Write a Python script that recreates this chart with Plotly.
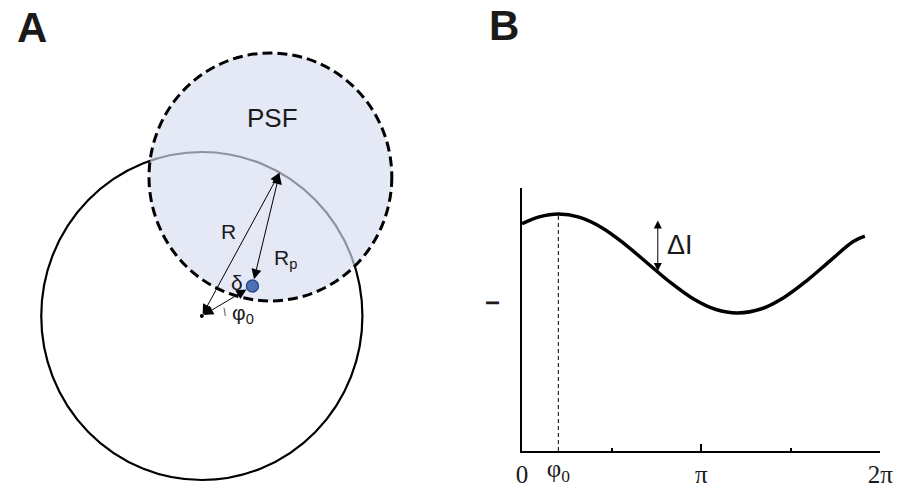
import numpy as np
import plotly.graph_objects as go

# ---------------- Panel A geometry (units of the ring radius R) ----------------
ring_center = (0.0, 0.0)
ring_radius = 1.0
psf_center = (0.427, 0.848)
psf_radius = 0.756
fluor_pos = (0.315, 0.183)
tip_angle_deg = 61.0
phi_arc_radius = 0.146
phi_arc_span_deg = (0.0, 20.0)

# ---------------- Panel B data ----------------
phase_rad = [0.0, 0.3, 0.64, 1.0, 1.4, 1.8, 2.2, 2.6, 3.0, 3.4, 3.78, 4.2, 4.6, 5.0, 5.4, 5.8, 6.01]
intensity = [0.864, 0.890, 0.901, 0.889, 0.849, 0.787, 0.714, 0.641, 0.579, 0.538,
             0.525, 0.541, 0.585, 0.649, 0.723, 0.796, 0.817]
phi0 = 0.636
delta_I_x = 2.38
delta_I_low, delta_I_high = 0.684, 0.882
x_tick_vals = [0.0, np.pi, 2 * np.pi]
x_tick_text = ["0", "π", "2π"]
x_minor_vals = [np.pi / 2, 3 * np.pi / 2]

W, H = 913, 496
SCALE = 164.0           # px per unit R in panel A
ORIGIN_PX = (200.0, 316.0)

SANS = "Liberation Sans, Arial, sans-serif"
SERIF = "Liberation Serif, Times New Roman, serif"

fig = go.Figure()

# ---- panel A traces ----
ang = np.deg2rad(np.linspace(*phi_arc_span_deg, 20))
fig.add_trace(go.Scatter(
    x=ring_center[0] + phi_arc_radius * np.cos(ang),
    y=ring_center[1] + phi_arc_radius * np.sin(ang),
    mode="lines", line=dict(color="#555555", width=1),
    xaxis="x", yaxis="y", hoverinfo="skip", showlegend=False))
fig.add_trace(go.Scatter(
    x=[ring_center[0]], y=[ring_center[1]], mode="markers",
    marker=dict(size=4, color="black"), xaxis="x", yaxis="y",
    hoverinfo="skip", showlegend=False))
fig.add_trace(go.Scatter(
    x=[fluor_pos[0]], y=[fluor_pos[1]], mode="markers",
    marker=dict(size=12, color="#4d70b6", line=dict(color="#2c4c8c", width=1.5)),
    xaxis="x", yaxis="y", hoverinfo="skip", showlegend=False))

# ---- panel B traces ----
fig.add_trace(go.Scatter(
    x=phase_rad, y=intensity, mode="lines",
    line=dict(color="black", width=3.5, shape="spline"),
    xaxis="x2", yaxis="y2", hoverinfo="skip", showlegend=False))
peak = float(np.interp(phi0, phase_rad, intensity))
fig.add_trace(go.Scatter(
    x=[phi0, phi0], y=[0, peak], mode="lines",
    line=dict(color="black", width=1, dash="4px,3px"),
    xaxis="x3", yaxis="y2", hoverinfo="skip", showlegend=False))

# ---- shapes (panel A) ----
shapes = [
    dict(type="circle", xref="x", yref="y",
         x0=ring_center[0] - ring_radius, y0=ring_center[1] - ring_radius,
         x1=ring_center[0] + ring_radius, y1=ring_center[1] + ring_radius,
         line=dict(color="black", width=2.2), layer="below"),
    dict(type="circle", xref="x", yref="y",
         x0=psf_center[0] - psf_radius, y0=psf_center[1] - psf_radius,
         x1=psf_center[0] + psf_radius, y1=psf_center[1] + psf_radius,
         fillcolor="rgba(214,221,240,0.66)",
         line=dict(color="black", width=3, dash="10px,5px"), layer="below"),
]

tip = (ring_center[0] + ring_radius * np.cos(np.deg2rad(tip_angle_deg)),
       ring_center[1] + ring_radius * np.sin(np.deg2rad(tip_angle_deg)))

def arrow(head, tail, standoff=0, startstandoff=0):
    return dict(x=head[0], y=head[1], ax=tail[0], ay=tail[1],
                xref="x", yref="y", axref="x", ayref="y", text="",
                showarrow=True, arrowside="end+start",
                arrowhead=2, startarrowhead=2, arrowsize=2, startarrowsize=2,
                arrowwidth=1, arrowcolor="black",
                standoff=standoff, startstandoff=startstandoff)

def label(x, y, text, size=21, xref="x", yref="y", font=SANS, angle=0, bold=False):
    return dict(x=x, y=y, xref=xref, yref=yref, text=text, showarrow=False,
                xanchor="center", yanchor="middle", textangle=angle,
                font=dict(family=font, size=size, color="#1a1a1a",
                          weight="bold" if bold else "normal"))

annotations = [
    arrow(tip, ring_center),
    arrow(fluor_pos, tip, standoff=7),
    arrow(fluor_pos, ring_center, standoff=7),
    label(0.439, 1.207, "PSF", size=26),
    label(0.163, 0.514, "R"),
    label(0.522, 0.345, "R<sub>p</sub>"),
    label(0.2195, 0.204, "δ"),
    label(0.255, 0.012, "φ<sub>0</sub>"),
    label(27 / W, 1 - 27 / H, "A", size=42, xref="paper", yref="paper", bold=True),
    label(508.5 / W, 1 - 25 / H, "B", size=42, xref="paper", yref="paper", bold=True),
    # panel B
    dict(x=delta_I_x, y=delta_I_low, ax=delta_I_x, ay=delta_I_high,
         xref="x2", yref="y2", axref="x2", ayref="y2", text="", showarrow=True,
         arrowside="end+start", arrowhead=2, startarrowhead=2,
         arrowsize=1.6, startarrowsize=1.6, arrowwidth=1, arrowcolor="black"),
    label(2.764, 0.783, "ΔI", size=27, xref="x2", yref="y2"),
    label(497 / W, 0.563, "I", size=19, xref="paper", yref="y2", angle=-90, bold=True),
]

# axis ranges so that panel A has equal px scale
ax_dom = [0.0, 0.48]
x_min = -ORIGIN_PX[0] / SCALE
x_max = x_min + (ax_dom[1] - ax_dom[0]) * W / SCALE
y_min = -(H - ORIGIN_PX[1]) / SCALE
y_max = ORIGIN_PX[1] / SCALE

b_dom_x = [527 / W, 893 / W]
b_dom_y = [(H - 451) / H, (H - 188) / H]

fig.update_layout(
    width=W, height=H, margin=dict(l=0, r=0, t=0, b=0),
    paper_bgcolor="white", plot_bgcolor="white",
    shapes=shapes, annotations=annotations, showlegend=False,
    xaxis=dict(domain=ax_dom, range=[x_min, x_max], visible=False, fixedrange=True),
    yaxis=dict(domain=[0, 1], range=[y_min, y_max], visible=False, fixedrange=True),
    xaxis2=dict(domain=b_dom_x, range=[0, 2 * np.pi], anchor="y2",
                showline=True, linecolor="black", linewidth=2,
                showgrid=False, zeroline=False,
                ticks="inside", ticklen=7, tickwidth=2, tickcolor="black",
                tickmode="array", tickvals=x_tick_vals, ticktext=x_tick_text,
                tickfont=dict(family=SERIF, size=25, color="#1a1a1a"),
                ticklabelstandoff=0,
                minor=dict(ticks="inside", ticklen=3, tickwidth=2, tickcolor="black",
                           tickmode="array", tickvals=x_minor_vals, showgrid=False)),
    xaxis3=dict(overlaying="x2", anchor="y2", range=[0, 2 * np.pi],
                showline=False, showgrid=False, zeroline=False, ticks="",
                tickmode="array", tickvals=[phi0], ticktext=["φ<sub>0</sub>"],
                tickfont=dict(family=SERIF, size=25, color="#1a1a1a"),
                ticklabelstandoff=0),
    yaxis2=dict(domain=b_dom_y, range=[0, 1], anchor="x2",
                showline=True, linecolor="black", linewidth=2,
                showgrid=False, zeroline=False, ticks="", showticklabels=False),
)

fig.write_html("out.html", config={"displayModeBar": False},
               post_script="document.body.style.margin='0';")
